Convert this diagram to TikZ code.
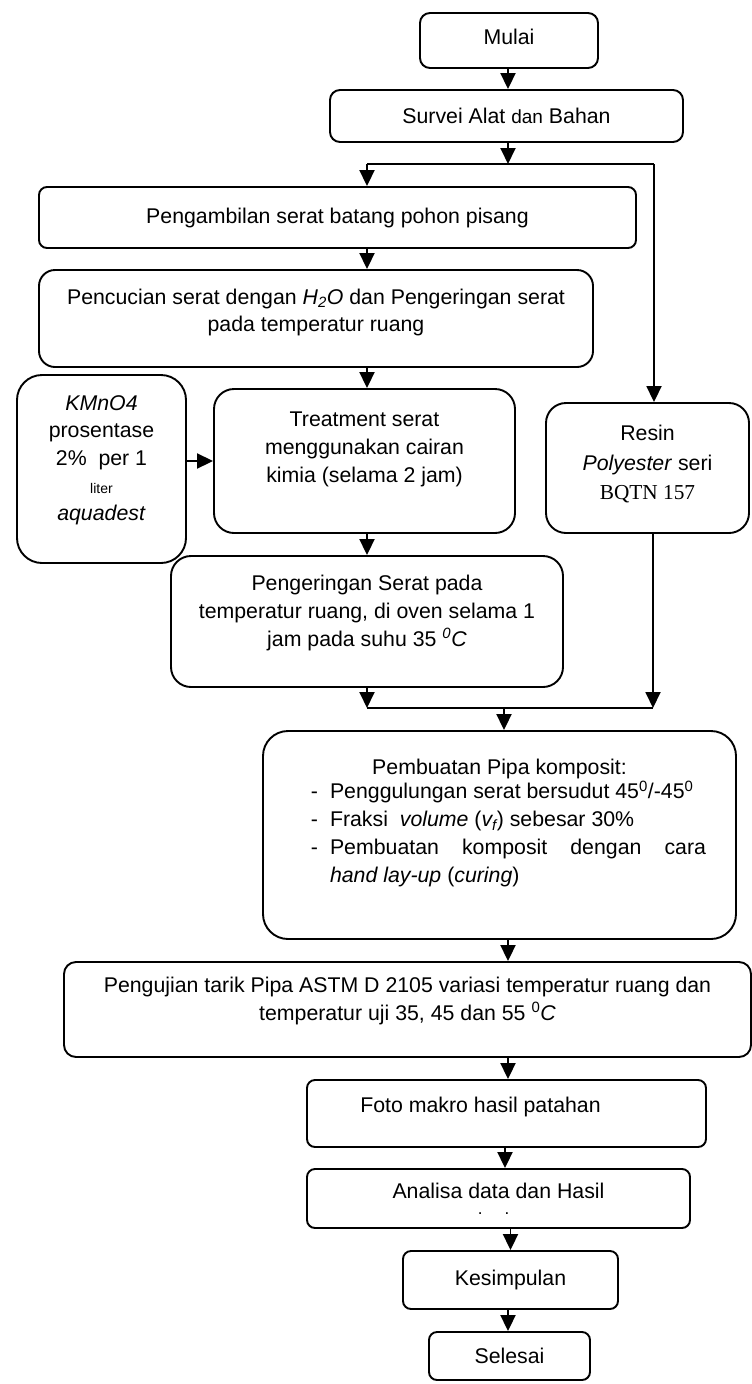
\documentclass[tikz,border=0pt]{standalone}
\usepackage{fontspec}
\setmainfont{Liberation Sans}
\newfontfamily\timesfont{Liberation Serif}
\usetikzlibrary{arrows.meta}
\tikzstyle{box}=[rectangle,draw=black,line width=1.9pt,align=center,
  inner sep=0pt,font=\fontsize{21.3}{27.7}\selectfont]
\tikzstyle{none}=[inner sep=0pt]
\tikzstyle{flow}=[line width=1.9pt,-{Triangle[width=15pt,length=16pt]}]
\tikzstyle{wire}=[line width=1.9pt]

\begin{document}
\begin{tikzpicture}[x=1pt,y=-1pt]
        \useasboundingbox (0, 0) rectangle (752, 1384);
        \node [style=box, rounded corners=10pt, minimum width=178pt, minimum height=55pt] (0) at (509, 40.5) {Mulai\\[-20pt]\mbox{}};
        \node [style=box, rounded corners=10pt, minimum width=353pt, minimum height=52pt] (1) at (506.5, 116) {Survei Alat {\fontsize{19}{27.7}\selectfont dan} Bahan};
        \node [style=box, rounded corners=8pt, minimum width=597pt, minimum height=61pt] (2) at (337.5, 217.5) {Pengambilan serat batang pohon pisang};
        \node [style=box, rounded corners=16pt, minimum width=554pt, minimum height=97pt] (3) at (316, 318.5) {Pencucian serat dengan \textit{H\textsubscript{2}O} dan Pengeringan serat\\pada temperatur ruang\\[-11pt]\mbox{}};
        \node [style=box, rounded corners=25pt, minimum width=169pt, minimum height=188pt] (4) at (101.5, 469) {\textit{KMnO4}\\prosentase\\2\%\ \ per 1\\{\fontsize{14}{27.7}\selectfont liter}\\\textit{aquadest}\\[-6pt]\mbox{}};
        \node [style=box, rounded corners=20pt, minimum width=301pt, minimum height=144pt] (5) at (364.5, 461) {Treatment serat\\menggunakan cairan\\kimia (selama 2 jam)\\\mbox{}};
        \node [style=box, rounded corners=20pt, minimum width=203pt, minimum height=130pt] (6) at (647.5, 468) {Resin\\[2pt]\textit{Polyester} seri\\[1pt]{\timesfont BQTN 157}\\[-16pt]\mbox{}};
        \node [style=box, rounded corners=20pt, minimum width=392pt, minimum height=131pt] (7) at (367, 621.5) {Pengeringan Serat pada\\temperatur ruang, di oven selama 1\\jam pada suhu 35 \textsuperscript{\textit{0}}\textit{C}\\[-6pt]\mbox{}};
        \node [style=box, rounded corners=25pt, minimum width=473pt, minimum height=208pt] (8) at (499.5, 835) {Pembuatan Pipa komposit:\\
          \hspace*{18pt}\begin{tabular}{@{}l@{\hspace{12pt}}p{376pt}@{}}
          - & Penggulungan serat bersudut 45\textsuperscript{0}/-45\textsuperscript{0}\\
          - & Fraksi \ \textit{volume} (\textit{v\textsubscript{f}}) sebesar 30\%\\
          - & Pembuatan komposit dengan cara\linebreak\textit{hand lay-up} (\textit{curing})
          \end{tabular}\\[20pt]\mbox{}};
        \node [style=box, rounded corners=12pt, minimum width=687pt, minimum height=95pt] (9) at (407.5, 1009.5) {Pengujian tarik Pipa ASTM D 2105 variasi temperatur ruang dan\\temperatur uji 35, 45 dan 55 \textsuperscript{0}\textit{C}\\[-6pt]\mbox{}};
        \node [style=box, rounded corners=8pt, minimum width=399pt, minimum height=67pt] (10) at (506.5, 1113.5) {Foto makro hasil patahan\hspace*{52pt}\\[-11pt]\mbox{}};
        \node [style=box, rounded corners=8pt, minimum width=383pt, minimum height=59pt] (11) at (498.5, 1198.5) {Analisa data dan Hasil\\[-12pt]{\fontsize{17}{17}\selectfont .\hspace{22pt}.}\hspace*{10pt}};
        \node [style=box, rounded corners=8pt, minimum width=215pt, minimum height=58pt] (12) at (510.5, 1280) {Kesimpulan};
        \node [style=box, rounded corners=8pt, minimum width=161pt, minimum height=48pt] (13) at (509.5, 1356) {Selesai};
        \coordinate (20) at (508, 164);
        \coordinate (21) at (367, 164);
        \coordinate (22) at (654, 164);
        \coordinate (23) at (367, 708);
        \coordinate (24) at (653, 708);
        \coordinate (25) at (504, 708);
        \draw [style=flow] (0.south -| 20) to (1.north -| 20);
        \draw [style=flow] (1.south -| 20) to (20);
        \draw [style=wire] (21) to (22);
        \draw [style=flow] (21) to (2.north -| 21);
        \draw [style=flow] (2.south -| 21) to (3.north -| 21);
        \draw [style=flow] (3.south -| 21) to (5.north -| 21);
        \draw [style=flow] (4.east |- 5.west) to (5.west);
        \draw [style=flow] (22) to (6.north -| 22);
        \draw [style=flow] (5.south -| 21) to (7.north -| 21);
        \draw [style=flow] (7.south -| 23) to (23);
        \draw [style=flow] (6.south -| 24) to (24);
        \draw [style=wire] (23) to (24);
        \draw [style=flow] (25) to (8.north -| 25);
        \draw [style=flow] (8.south -| 20) to (9.north -| 20);
        \draw [style=flow] (9.south -| 20) to (10.north -| 20);
        \draw [style=flow] (10.south) ++(-1.5, 0) coordinate (26) to (11.north -| 26);
        \draw [style=flow] (11.south -| 12.north) to (12.north);
        \draw [style=flow] (12.south -| 20) to (13.north -| 20);
    \end{tikzpicture}
\end{document}
